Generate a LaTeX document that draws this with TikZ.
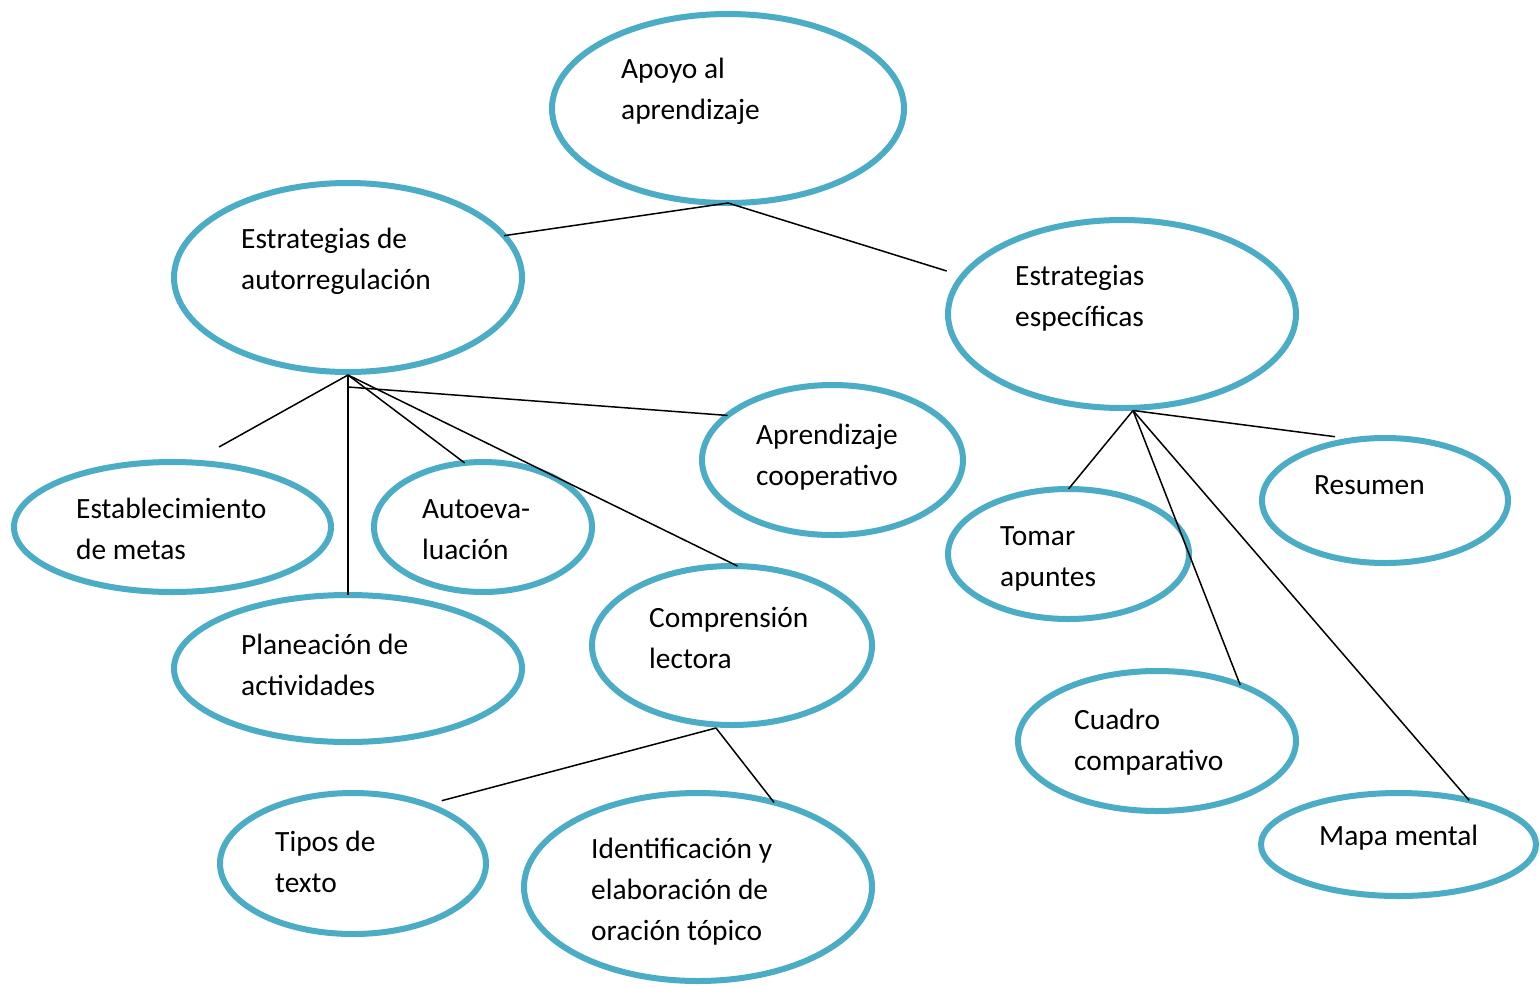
\documentclass[tikz,border=0pt]{standalone}
\usepackage{fontspec}
\setmainfont{Carlito}
\usetikzlibrary{shapes.geometric}
\definecolor{ellc}{RGB}{75,172,198}
\begin{document}
\begin{tikzpicture}[x=1pt,y=-1pt,
  bub/.style={ellipse, draw=ellc, line width=6pt, inner sep=0pt, outer sep=0pt},
  lbl/.style={anchor=base west, align=left, inner sep=0pt, font=\fontsize{29.4}{41}\selectfont},
  con/.style={line width=1.5pt, draw=black}]
\useasboundingbox (0,0) rectangle (1540,986);
\fill[white] (0,0) rectangle (1540,986);
% bubbles
\node[bub, minimum width=352pt, minimum height=189pt] (apoyo) at (728,108.5) {};
\node[bub, minimum width=348pt, minimum height=189pt] (auto) at (348,277.5) {};
\node[bub, minimum width=348pt, minimum height=188pt] (espec) at (1122,314) {};
\node[bub, minimum width=317pt, minimum height=130pt] (metas) at (172.5,527) {};
\node[bub, minimum width=218pt, minimum height=130pt] (autoeval) at (483,527) {};
\node[bub, minimum width=261pt, minimum height=150pt] (coop) at (832.5,460) {};
\node[bub, minimum width=348pt, minimum height=147pt] (planea) at (348,668.5) {};
\node[bub, minimum width=280pt, minimum height=159pt] (compr) at (732,645.5) {};
\node[bub, minimum width=266pt, minimum height=141pt] (tipos) at (353,863.5) {};
\node[bub, minimum width=348pt, minimum height=188pt] (ident) at (698,887) {};
\node[bub, minimum width=241pt, minimum height=130pt] (tomar) at (1068.5,554) {};
\node[bub, minimum width=246pt, minimum height=125pt] (resumen) at (1385,500.5) {};
\node[bub, minimum width=278pt, minimum height=140pt] (cuadro) at (1157,741) {};
\node[bub, minimum width=275pt, minimum height=103pt] (mapa) at (1398.5,844.5) {};
% labels (anchored at the baseline of the last line)
\node[lbl] (t-apoyo) at (621,119) {Apoyo al\\aprendizaje};
\node[lbl] (t-auto) at (241,289) {Estrategias de\\autorregulación};
\node[lbl] (t-espec) at (1015,326) {Estrategias\\específicas};
\node[lbl] (t-metas) at (76,559) {Establecimiento\\de metas};
\node[lbl] (t-autoeval) at (422,559) {Autoeva-\\luación};
\node[lbl] (t-coop) at (756,485) {Aprendizaje\\cooperativo};
\node[lbl] (t-planea) at (241,695) {Planeación de\\actividades};
\node[lbl] (t-compr) at (649,668) {Comprensión\\lectora};
\node[lbl] (t-tipos) at (275,892) {Tipos de\\texto};
\node[lbl] (t-ident) at (591,940) {Identificación y\\elaboración de\\oración tópico};
\node[lbl] (t-tomar) at (1000,586) {Tomar\\apuntes};
\node[lbl] (t-resumen) at (1314,494) {Resumen};
\node[lbl] (t-cuadro) at (1074,770) {Cuadro\\comparativo};
\node[lbl] (t-mapa) at (1319,845) {Mapa mental};
% junctions and free ends
\coordinate (aj) at (348,375);
\coordinate (cstart) at (348,387);
\coordinate (e1) at (946.7,271);
\coordinate (m1) at (219,447);
\coordinate (cj) at (716,728);
\coordinate (t1) at (441.7,800.7);
\coordinate (ej) at (1133,410.5);
\coordinate (r1) at (1335,436.7);
% connectors
\draw[con] (apoyo.south) -- (auto.15.6);
\draw[con] (apoyo.south) -- (e1);
\draw[con] (aj) -- (m1);
\draw[con] (aj) -- (planea.north);
\draw[con] (aj) -- (autoeval.106.9);
\draw[con] (aj) -- (compr.86.7);
\draw[con] (cstart) -- (coop.157.6);
\draw[con] (cj) -- (t1);
\draw[con] (cj) -- (ident.48.5);
\draw[con] (ej) -- (tomar.north);
\draw[con] (ej) -- (r1);
\draw[con] (ej) -- (cuadro.34.3);
\draw[con] (ej) -- (mapa.32.5);
\end{tikzpicture}
\end{document}
